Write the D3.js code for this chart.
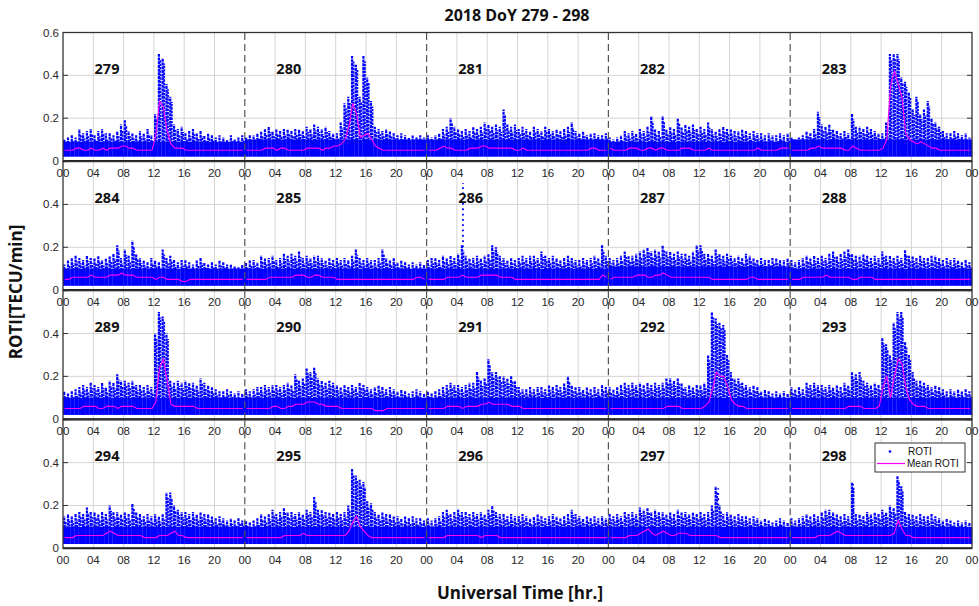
<!DOCTYPE html>
<html><head><meta charset="utf-8">
<script src="https://cdn.jsdelivr.net/npm/d3@7/dist/d3.min.js"></script>
<style>body{margin:0;background:#fff}svg{display:block}</style>
</head><body>
<svg id="c" width="979" height="606"></svg>
<script>
// ---------- DATA ----------
const days = [279,280,281,282,283,284,285,286,287,288,289,290,291,292,293,294,295,296,297,298];
const yTicks = [0, 0.2, 0.4, 0.6];
const yTickLabels = ["0", "0.2", "0.4", "0.6"];
const xTickHours = [0,4,8,12,16,20,24,28,32,36,40,44,48,52,56,60,64,68,72,76,80,84,88,92,96,100,104,108,112,116,120];
const xTickLabels = xTickHours.map(h => String(h % 24).padStart(2, "0"));
const title = "2018 DoY 279 - 298";
const xTitle = "Universal Time [hr.]";
const yTitle = "ROTI[TECU/min]";
const legendLabels = ["ROTI", "Mean ROTI"];

// half-hourly maximum ROTI (TECU/min), 48 bins per day
const max279 = [.10,.11,.12,.11,.15,.13,.14,.15,.12,.14,.15,.13,.13,.12,.14,.17,.19,.14,.13,.12,.14,.13,.15,.12,.22,.50,.48,.36,.30,.17,.15,.16,.13,.14,.15,.13,.14,.12,.13,.12,.11,.12,.11,.10,.12,.10,.11,.12];
const max280 = [.11,.12,.12,.13,.14,.15,.16,.14,.15,.14,.15,.15,.14,.15,.15,.14,.16,.15,.17,.16,.15,.16,.14,.13,.13,.18,.27,.30,.49,.45,.30,.49,.39,.28,.16,.15,.14,.15,.14,.13,.12,.13,.12,.11,.12,.11,.12,.11];
const max281 = [.12,.11,.12,.13,.15,.16,.20,.16,.15,.14,.15,.14,.16,.15,.16,.18,.17,.16,.17,.16,.24,.17,.16,.17,.15,.16,.15,.14,.16,.15,.14,.16,.15,.14,.15,.14,.15,.16,.18,.14,.13,.14,.12,.13,.13,.12,.12,.13];
const max282 = [.11,.10,.11,.12,.14,.13,.14,.13,.15,.14,.16,.21,.15,.14,.21,.15,.16,.15,.20,.16,.17,.16,.17,.15,.16,.15,.18,.15,.14,.15,.16,.15,.15,.14,.14,.15,.14,.13,.14,.13,.13,.12,.13,.12,.12,.13,.12,.13];
const max283 = [.11,.10,.11,.12,.14,.13,.15,.23,.17,.16,.17,.15,.14,.13,.14,.13,.22,.16,.16,.15,.16,.15,.14,.13,.13,.18,.50,.50,.50,.39,.37,.32,.24,.30,.22,.24,.28,.20,.18,.16,.14,.13,.13,.14,.13,.12,.13,.11];
const max284 = [.12,.14,.15,.16,.15,.14,.16,.15,.15,.16,.14,.15,.16,.17,.21,.15,.19,.16,.23,.17,.15,.14,.13,.15,.14,.13,.19,.15,.16,.14,.13,.14,.14,.13,.12,.14,.15,.13,.12,.13,.12,.14,.13,.12,.12,.11,.11,.12];
const max285 = [.13,.14,.14,.13,.16,.15,.15,.16,.14,.15,.17,.16,.17,.16,.18,.15,.16,.15,.16,.16,.15,.14,.15,.14,.15,.14,.15,.14,.16,.19,.15,.14,.15,.14,.14,.15,.19,.15,.14,.15,.13,.14,.13,.12,.13,.12,.13,.12];
const max286 = [.14,.15,.15,.14,.16,.15,.16,.15,.17,.21,.16,.15,.15,.16,.15,.16,.17,.21,.20,.16,.15,.14,.15,.14,.15,.16,.15,.16,.16,.15,.18,.16,.15,.16,.15,.14,.15,.16,.15,.14,.14,.15,.14,.15,.16,.15,.21,.16];
const max287 = [.15,.14,.15,.16,.18,.16,.16,.17,.18,.19,.20,.18,.19,.18,.21,.18,.18,.17,.18,.17,.17,.16,.18,.21,.21,.17,.17,.16,.19,.17,.16,.17,.16,.15,.16,.15,.17,.16,.15,.14,.15,.14,.14,.15,.15,.14,.14,.15];
const max288 = [.14,.13,.14,.15,.16,.15,.16,.15,.16,.15,.17,.18,.16,.17,.18,.19,.17,.16,.16,.17,.16,.15,.16,.15,.18,.16,.16,.15,.16,.15,.19,.16,.16,.15,.16,.15,.15,.16,.16,.15,.14,.15,.14,.15,.14,.13,.14,.13];
const max289 = [.13,.12,.13,.14,.15,.16,.15,.17,.16,.15,.17,.15,.18,.17,.21,.18,.18,.17,.18,.16,.16,.15,.16,.15,.40,.50,.48,.40,.18,.17,.18,.17,.18,.17,.17,.16,.19,.17,.16,.15,.14,.13,.13,.14,.13,.12,.13,.12];
const max290 = [.14,.13,.14,.15,.15,.16,.15,.16,.16,.15,.16,.17,.16,.21,.18,.19,.24,.22,.24,.19,.18,.17,.18,.17,.16,.15,.16,.15,.16,.15,.17,.16,.15,.14,.15,.16,.15,.14,.15,.14,.13,.14,.13,.12,.13,.14,.13,.12];
const max291 = [.13,.12,.13,.14,.15,.16,.17,.16,.16,.15,.16,.17,.17,.22,.18,.19,.28,.22,.22,.20,.20,.19,.20,.18,.15,.14,.14,.15,.14,.15,.15,.14,.16,.15,.16,.15,.17,.20,.16,.15,.15,.14,.15,.14,.15,.14,.16,.15];
const max292 = [.15,.14,.15,.16,.17,.16,.17,.16,.17,.16,.17,.16,.17,.16,.17,.19,.19,.18,.19,.17,.15,.16,.15,.16,.16,.17,.30,.50,.47,.45,.44,.30,.22,.19,.19,.17,.16,.15,.16,.15,.13,.14,.13,.12,.13,.12,.13,.12];
const max293 = [.15,.14,.15,.14,.17,.16,.17,.16,.16,.15,.16,.15,.16,.15,.17,.16,.22,.21,.22,.18,.17,.16,.17,.16,.38,.35,.30,.45,.50,.50,.36,.30,.22,.18,.18,.17,.16,.15,.16,.15,.14,.13,.14,.13,.14,.13,.14,.13];
const max294 = [.15,.16,.15,.16,.17,.16,.19,.17,.17,.16,.17,.16,.20,.17,.17,.16,.17,.16,.21,.17,.16,.15,.16,.15,.16,.15,.16,.26,.26,.20,.18,.17,.17,.16,.17,.16,.17,.16,.16,.15,.14,.15,.14,.13,.14,.13,.14,.13];
const max295 = [.13,.12,.13,.14,.16,.15,.16,.18,.16,.17,.19,.17,.17,.16,.17,.16,.18,.17,.24,.18,.18,.17,.17,.16,.17,.16,.17,.20,.37,.34,.32,.31,.22,.21,.17,.16,.17,.16,.16,.15,.15,.14,.15,.14,.15,.14,.14,.13];
const max296 = [.14,.13,.14,.15,.17,.18,.16,.17,.18,.17,.17,.16,.17,.16,.17,.16,.18,.20,.17,.16,.16,.15,.16,.15,.15,.16,.15,.14,.15,.16,.15,.14,.15,.16,.15,.14,.15,.16,.18,.16,.15,.14,.15,.14,.15,.14,.15,.14];
const max297 = [.16,.15,.16,.15,.17,.16,.17,.16,.19,.18,.19,.17,.18,.17,.17,.16,.17,.16,.18,.17,.17,.16,.17,.16,.17,.16,.17,.20,.29,.20,.16,.17,.16,.15,.16,.15,.15,.14,.15,.14,.13,.14,.13,.12,.13,.14,.13,.12];
const max298 = [.14,.13,.14,.15,.16,.15,.16,.15,.17,.18,.18,.17,.16,.15,.16,.15,.31,.16,.16,.15,.17,.16,.17,.16,.18,.17,.20,.19,.34,.29,.17,.16,.16,.15,.16,.15,.15,.16,.15,.14,.13,.14,.13,.12,.13,.12,.13,.12];

// half-hourly mean ROTI (TECU/min)
const mean279 = [.05,.05,.05,.06,.06,.05,.05,.06,.05,.05,.06,.05,.06,.06,.06,.07,.07,.06,.06,.05,.05,.05,.05,.05,.12,.28,.25,.14,.08,.06,.06,.06,.05,.05,.05,.05,.05,.05,.05,.05,.05,.05,.05,.05,.05,.05,.05,.05];
const mean280 = [.05,.05,.05,.05,.05,.06,.06,.06,.05,.06,.06,.05,.05,.05,.05,.05,.06,.06,.06,.06,.05,.06,.06,.07,.07,.08,.10,.16,.27,.22,.11,.12,.13,.10,.07,.06,.05,.05,.05,.05,.05,.05,.05,.05,.05,.05,.05,.05];
const mean281 = [.05,.05,.05,.06,.07,.06,.06,.05,.05,.05,.05,.06,.06,.06,.07,.07,.06,.06,.06,.06,.06,.06,.06,.05,.05,.06,.05,.05,.05,.05,.05,.05,.05,.05,.05,.05,.05,.05,.05,.05,.05,.05,.05,.06,.06,.05,.05,.05];
const mean282 = [.06,.05,.05,.05,.05,.06,.06,.06,.05,.05,.06,.06,.05,.06,.06,.05,.05,.05,.05,.06,.06,.06,.05,.05,.05,.05,.06,.05,.05,.05,.05,.05,.05,.05,.05,.05,.05,.05,.05,.06,.05,.05,.05,.05,.05,.06,.06,.06];
const mean283 = [.05,.05,.05,.05,.05,.06,.06,.07,.06,.06,.06,.06,.06,.06,.05,.05,.07,.06,.05,.05,.05,.05,.05,.05,.06,.10,.35,.42,.36,.30,.13,.10,.09,.08,.09,.08,.07,.06,.06,.05,.05,.05,.05,.05,.05,.05,.05,.05];
const mean284 = [.05,.05,.06,.06,.06,.06,.06,.07,.06,.06,.06,.06,.07,.07,.07,.08,.07,.07,.07,.06,.06,.06,.06,.06,.05,.06,.06,.05,.05,.05,.05,.04,.04,.05,.05,.05,.05,.05,.05,.05,.05,.05,.05,.05,.05,.05,.05,.05];
const mean285 = [.05,.05,.05,.05,.05,.05,.06,.06,.06,.06,.06,.06,.06,.07,.07,.07,.06,.06,.07,.07,.06,.06,.06,.06,.05,.05,.05,.05,.05,.05,.05,.05,.05,.05,.05,.05,.05,.05,.05,.05,.05,.05,.05,.05,.05,.06,.06,.05];
const mean286 = [.05,.05,.05,.05,.05,.06,.06,.06,.06,.07,.06,.06,.06,.06,.07,.07,.07,.07,.07,.06,.06,.06,.06,.05,.05,.05,.05,.05,.05,.05,.05,.05,.05,.05,.05,.05,.05,.05,.05,.05,.05,.05,.05,.05,.05,.05,.07,.06];
const mean287 = [.05,.06,.06,.06,.06,.06,.06,.07,.07,.07,.06,.06,.07,.07,.08,.07,.06,.06,.06,.06,.06,.06,.06,.06,.06,.06,.06,.05,.05,.05,.05,.05,.05,.05,.05,.05,.05,.06,.06,.05,.05,.05,.05,.05,.05,.05,.05,.05];
const mean288 = [.05,.05,.05,.06,.06,.06,.06,.06,.06,.07,.06,.06,.06,.06,.06,.06,.05,.05,.06,.06,.06,.06,.05,.05,.05,.05,.05,.05,.05,.05,.05,.05,.05,.05,.05,.05,.05,.05,.05,.05,.05,.05,.05,.05,.05,.05,.05,.05];
const mean289 = [.05,.05,.05,.05,.05,.06,.06,.06,.06,.05,.05,.06,.06,.06,.05,.06,.06,.06,.06,.05,.05,.05,.05,.05,.08,.24,.28,.18,.07,.06,.06,.06,.06,.06,.06,.05,.05,.05,.05,.05,.05,.05,.05,.05,.05,.05,.05,.05];
const mean290 = [.05,.05,.05,.05,.05,.05,.05,.06,.06,.05,.05,.06,.06,.07,.07,.07,.08,.08,.08,.07,.07,.06,.06,.06,.06,.05,.05,.05,.05,.05,.05,.05,.05,.05,.04,.04,.04,.05,.05,.05,.05,.05,.05,.05,.05,.05,.05,.05];
const mean291 = [.05,.05,.05,.05,.05,.06,.06,.06,.06,.05,.06,.06,.06,.06,.07,.07,.08,.07,.07,.07,.07,.07,.06,.06,.06,.05,.05,.05,.05,.05,.05,.05,.05,.05,.05,.05,.05,.05,.05,.05,.05,.05,.05,.05,.05,.05,.05,.05];
const mean292 = [.05,.05,.05,.05,.05,.05,.05,.05,.05,.05,.05,.05,.05,.05,.05,.06,.06,.06,.06,.05,.05,.05,.05,.05,.05,.06,.08,.14,.22,.20,.20,.15,.09,.07,.06,.06,.05,.05,.05,.05,.05,.05,.05,.05,.05,.05,.05,.05];
const mean293 = [.05,.05,.05,.05,.05,.05,.05,.05,.05,.05,.05,.05,.05,.05,.05,.06,.06,.06,.06,.05,.05,.05,.05,.06,.15,.20,.10,.20,.28,.26,.15,.09,.07,.06,.06,.06,.05,.05,.05,.05,.05,.05,.05,.05,.05,.05,.05,.05];
const mean294 = [.05,.05,.05,.06,.06,.06,.06,.06,.06,.06,.06,.07,.08,.07,.06,.06,.06,.06,.06,.06,.06,.05,.05,.05,.05,.06,.06,.06,.07,.08,.06,.06,.05,.05,.05,.05,.05,.05,.05,.05,.05,.05,.05,.05,.05,.05,.05,.05];
const mean295 = [.05,.05,.05,.05,.05,.05,.05,.05,.05,.05,.06,.06,.06,.06,.06,.07,.06,.06,.06,.06,.06,.06,.06,.06,.06,.06,.06,.08,.12,.15,.10,.08,.06,.05,.05,.05,.05,.05,.05,.05,.05,.05,.05,.05,.05,.05,.05,.05];
const mean296 = [.05,.05,.05,.05,.05,.06,.06,.06,.06,.06,.06,.06,.06,.06,.05,.06,.06,.06,.06,.05,.05,.05,.05,.05,.05,.05,.05,.05,.05,.05,.05,.05,.05,.05,.05,.05,.05,.05,.05,.05,.05,.05,.05,.05,.05,.05,.05,.05];
const mean297 = [.05,.05,.05,.05,.05,.06,.06,.06,.07,.08,.09,.07,.06,.07,.08,.07,.06,.06,.07,.07,.07,.06,.06,.06,.06,.06,.06,.06,.06,.05,.05,.05,.05,.05,.05,.05,.05,.05,.05,.05,.05,.05,.05,.05,.05,.05,.05,.05];
const mean298 = [.05,.05,.05,.05,.05,.05,.05,.06,.06,.06,.06,.07,.08,.07,.06,.06,.06,.06,.06,.06,.06,.06,.06,.06,.06,.06,.06,.07,.13,.09,.06,.06,.05,.05,.05,.05,.05,.05,.05,.05,.05,.05,.05,.05,.05,.05,.05,.05];

// lower edge and top of the dense dot cloud per day (TECU/min)
const rotiFloor = [.02,.02,.02,.02,.02,.02,.02,.02,.02,.02,.02,.02,.02,.02,.02,.02,.02,.02,.02,.02];
const rotiBody  = [.09,.10,.10,.09,.10,.10,.10,.10,.11,.10,.10,.10,.10,.10,.10,.10,.10,.10,.10,.10];

// sparse isolated dot columns: day, hour, low, high
const outlierDay  = [286, 298, 297];
const outlierHour = [4.8, 8.3, 14.5];
const outlierLow  = [.20, .17, .20];
const outlierHigh = [.50, .30, .28];

const maxSeries  = [max279,max280,max281,max282,max283,max284,max285,max286,max287,max288,max289,max290,max291,max292,max293,max294,max295,max296,max297,max298];
const meanSeries = [mean279,mean280,mean281,mean282,mean283,mean284,mean285,mean286,mean287,mean288,mean289,mean290,mean291,mean292,mean293,mean294,mean295,mean296,mean297,mean298];

// ---------- DRAWING ----------
const svg = d3.select("#c");
const left = 63, right = 972;
const top0 = 32.5, rowStep = 129.1, rowH = 128.5;
const BLUE = "#0000ff", MAG = "#ff00ff", AX = "#333333", GRID = "#d4d4d4";
const x = d3.scaleLinear().domain([0, 120]).range([left, right]);
const binW = x(0.5) - x(0);

const ys = [0,1,2,3].map(r => d3.scaleLinear().domain([0, 0.6]).range([top0 + r*rowStep + rowH, top0 + r*rowStep]));

// grids
[0,1,2,3].forEach(r => {
  const y = ys[r];
  const g = svg.append("g");
  g.selectAll(".vg").data(xTickHours.filter(h => h % 24 !== 0)).join("line")
    .attr("x1", d => x(d)).attr("x2", d => x(d)).attr("y1", y(0)).attr("y2", y(0.6))
    .attr("stroke", GRID).attr("stroke-width", 1);
  g.selectAll(".hg").data([0.2, 0.4]).join("line")
    .attr("x1", left).attr("x2", right).attr("y1", d => y(d)).attr("y2", d => y(d))
    .attr("stroke", GRID).attr("stroke-width", 1);
});

// data
days.forEach((day, i) => {
  const r = Math.floor(i / 5), c = i % 5;
  const y = ys[r];
  const off = c * 24;
  const g = svg.append("g");
  const mx = maxSeries[i];
  // dense cloud core
  g.selectAll("rect.body").data(mx).join("rect")
    .attr("x", (d, k) => x(off + k/2)).attr("width", binW + 0.2)
    .attr("y", d => y(Math.min(d, rotiBody[i]))).attr("height", d => y(rotiFloor[i]) - y(Math.min(d, rotiBody[i])))
    .attr("fill", BLUE);
  // dotted columns up to the half-hour maximum
  g.selectAll("line.sp").data(mx).join("line")
    .attr("x1", (d, k) => x(off + k/2 + 0.16)).attr("x2", (d, k) => x(off + k/2 + 0.16))
    .attr("y1", d => y(rotiBody[i]) + 1).attr("y2", d => y(d))
    .attr("stroke", BLUE).attr("stroke-width", 2.2).attr("stroke-dasharray", "3,0.7")
    .attr("stroke-dashoffset", (d, k) => (k * 1.3) % 3.7);
  g.selectAll("line.sp2").data(mx).join("line")
    .attr("x1", (d, k) => x(off + k/2 + 0.36)).attr("x2", (d, k) => x(off + k/2 + 0.36))
    .attr("y1", d => y(rotiBody[i]) + 1).attr("y2", d => y(Math.max(rotiBody[i], d - 0.025)))
    .attr("stroke", BLUE).attr("stroke-width", 1.8).attr("stroke-dasharray", "2.4,1")
    .attr("stroke-dashoffset", (d, k) => (k * 2.1) % 3.4);
  // mean line
  const line = d3.line().x((d, k) => x(off + k/2 + 0.25)).y(d => y(d));
  g.append("path").attr("d", line(meanSeries[i])).attr("fill", "none")
    .attr("stroke", MAG).attr("stroke-width", 1.1);
});

// outlier dot columns
outlierDay.forEach((day, j) => {
  const i = days.indexOf(day);
  const r = Math.floor(i / 5), c = i % 5;
  const y = ys[r];
  svg.append("line")
    .attr("x1", x(c*24 + outlierHour[j])).attr("x2", x(c*24 + outlierHour[j]))
    .attr("y1", y(outlierLow[j])).attr("y2", y(outlierHigh[j]))
    .attr("stroke", BLUE).attr("stroke-width", 1.8).attr("stroke-dasharray", "1.8,3.5");
});

// axes boxes, dashed day separators, ticks
[0,1,2,3].forEach(r => {
  const y = ys[r];
  const g = svg.append("g");
  g.selectAll(".sep").data([24, 48, 72, 96]).join("line")
    .attr("x1", d => x(d)).attr("x2", d => x(d)).attr("y1", y(0)).attr("y2", y(0.6))
    .attr("stroke", "#555").attr("stroke-width", 1.2).attr("stroke-dasharray", "7,4");
  g.append("rect").attr("x", left).attr("y", y(0.6)).attr("width", right - left).attr("height", y(0) - y(0.6))
    .attr("fill", "none").attr("stroke", AX).attr("stroke-width", 1.3);
  g.append("line").attr("x1", left).attr("x2", right).attr("y1", y(0)).attr("y2", y(0))
    .attr("stroke", "#222").attr("stroke-width", 2);
  g.selectAll(".yt").data(yTicks).join("line")
    .attr("x1", left).attr("x2", left + 5).attr("y1", d => y(d)).attr("y2", d => y(d))
    .attr("stroke", AX);
  g.selectAll(".yt2").data(yTicks).join("line")
    .attr("x1", right).attr("x2", right - 5).attr("y1", d => y(d)).attr("y2", d => y(d))
    .attr("stroke", AX);
});

// tick labels
[0,1,2,3].forEach(r => {
  const y = ys[r];
  const g = svg.append("g").attr("font-family", "Liberation Sans, Arial, sans-serif").attr("font-size", 11.5).attr("fill", "#262626");
  g.selectAll(".xl").data(xTickHours).join("text")
    .attr("x", d => x(d)).attr("y", y(0) + 16).attr("text-anchor", "middle").text((d, k) => xTickLabels[k]);
  const labelTicks = r === 0 ? yTicks : yTicks.slice(0, 3);
  g.selectAll(".yl").data(labelTicks).join("text")
    .attr("x", left - 4).attr("y", d => y(d) + 4).attr("text-anchor", "end")
    .text(d => yTickLabels[yTicks.indexOf(d)]);
});

// day labels
days.forEach((day, i) => {
  const r = Math.floor(i / 5), c = i % 5;
  svg.append("text").attr("x", x(c*24) + 44).attr("y", ys[r](0.6) + 41)
    .attr("text-anchor", "middle").attr("font-family", "Open Sans, sans-serif").attr("font-weight", "bold")
    .attr("font-size", 14.5).attr("fill", "#111").text(day);
});

// legend
const lg = svg.append("g").attr("font-family", "Liberation Sans, Arial, sans-serif").attr("font-size", 10).attr("fill", "#111");
lg.append("rect").attr("x", 875).attr("y", 443).attr("width", 90).attr("height", 29)
  .attr("fill", "#fff").attr("stroke", "#333").attr("stroke-width", 1);
lg.append("circle").attr("cx", 890).attr("cy", 451.5).attr("r", 1.3).attr("fill", BLUE);
lg.append("text").attr("x", 908).attr("y", 455).text(legendLabels[0]);
lg.append("line").attr("x1", 877).attr("x2", 905).attr("y1", 463.5).attr("y2", 463.5).attr("stroke", MAG).attr("stroke-width", 1.2);
lg.append("text").attr("x", 907).attr("y", 467).text(legendLabels[1]);

// titles
svg.append("text").attr("x", 517).attr("y", 21).attr("text-anchor", "middle")
  .attr("font-family", "Open Sans, sans-serif").attr("font-weight", "bold").attr("font-size", 16).attr("fill", "#111").text(title);
svg.append("text").attr("x", 520).attr("y", 599).attr("text-anchor", "middle")
  .attr("font-family", "Open Sans, sans-serif").attr("font-weight", "bold").attr("font-size", 17).attr("fill", "#111").text(xTitle);
svg.append("text").attr("transform", "translate(22,292) rotate(-90)").attr("text-anchor", "middle")
  .attr("font-family", "Open Sans, sans-serif").attr("font-weight", "bold").attr("font-size", 17).attr("fill", "#111").text(yTitle);
</script>
</body></html>
